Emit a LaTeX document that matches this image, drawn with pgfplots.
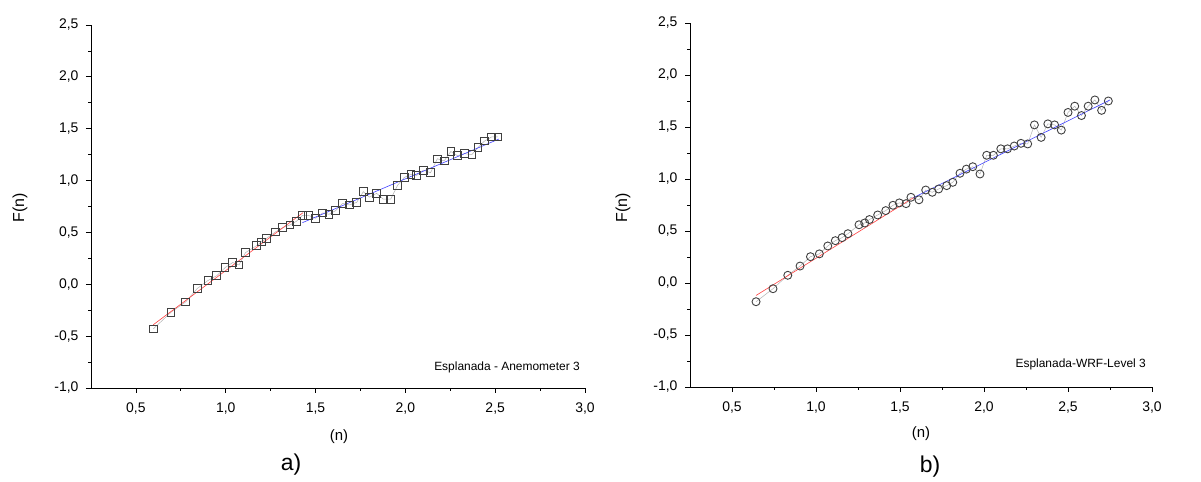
\documentclass[border=0pt]{standalone}
\usepackage{fontspec}
\setmainfont{Liberation Sans}
\usepackage{pgfplots}
\pgfplotsset{compat=1.18}

\pgfplotsset{
  myax/.style={
    scale only axis,
    axis lines=left,
    axis line style={-, line width=0.9bp},
    xmin=0.25, xmax=3, ymin=-1, ymax=2.5,
    xtick={0.5,1,1.5,2,2.5,3},
    ytick={-1,-0.5,0,0.5,1,1.5,2,2.5},
    minor x tick num=1, minor y tick num=1,
    tick align=outside,
    major tick length=5bp, minor tick length=3bp,
    tick style={line width=0.8bp, black},
    ticklabel style={font=\fontsize{14}{16}\selectfont},
    xticklabel style={yshift=-6bp},
    yticklabel style={xshift=-4bp},
    /pgf/number format/.cd, use comma, fixed, fixed zerofill, precision=1, assume math mode=true,
    /pgfplots/.cd,
    clip=false,
  }
}

\begin{document}
\begin{tikzpicture}[x=1bp,y=1bp]
\path[use as bounding box] (0,0) rectangle (1201,482);

\begin{axis}[myax, at={(91bp,94bp)}, anchor=south west, width=494bp, height=363bp]
\addplot[gray!60, line width=0.5bp, mark=square, mark size=3.8bp, mark options={black!75, line width=0.9bp, solid}] coordinates {
(0.597,-0.43) (0.695,-0.27) (0.777,-0.17) (0.842,-0.04) (0.900,0.035) (0.950,0.083)
(0.996,0.16) (1.039,0.21) (1.074,0.186) (1.110,0.305) (1.172,0.372) (1.200,0.41)
(1.228,0.444) (1.276,0.504) (1.317,0.546) (1.358,0.572) (1.393,0.607) (1.427,0.665)
(1.460,0.665) (1.500,0.636) (1.540,0.688) (1.575,0.675) (1.612,0.71) (1.650,0.78)
(1.688,0.765) (1.729,0.79) (1.766,0.893) (1.800,0.84) (1.840,0.877) (1.877,0.82)
(1.918,0.82) (1.957,0.955) (1.994,1.03) (2.030,1.06) (2.063,1.05) (2.100,1.10)
(2.140,1.076) (2.178,1.21) (2.216,1.19) (2.253,1.28) (2.290,1.24) (2.330,1.26)
(2.370,1.25) (2.405,1.32) (2.440,1.38) (2.480,1.42) (2.515,1.42)
};
\addplot[red!75, line width=0.6bp] coordinates {(0.597,-0.39) (1.43,0.69)};
\addplot[blue!75, line width=0.6bp] coordinates {(1.427,0.594) (2.52,1.40)};
\end{axis}

\begin{axis}[myax, at={(690bp,95bp)}, anchor=south west, width=462bp, height=364bp]
\addplot[gray!60, line width=0.5bp, mark=o, mark size=4bp, mark options={black!75, line width=0.9bp, solid}] coordinates {
(0.643,-0.18) (0.744,-0.055) (0.832,0.074) (0.905,0.163) (0.967,0.253) (1.020,0.28)
(1.070,0.356) (1.115,0.407) (1.155,0.436) (1.190,0.474) (1.256,0.56) (1.290,0.577)
(1.318,0.61) (1.367,0.654) (1.415,0.696) (1.458,0.747) (1.496,0.77) (1.536,0.763)
(1.565,0.824) (1.613,0.80) (1.653,0.894) (1.692,0.872) (1.730,0.904) (1.778,0.936)
(1.814,0.968) (1.857,1.055) (1.895,1.095) (1.933,1.118) (1.976,1.048) (2.016,1.228)
(2.056,1.228) (2.100,1.29) (2.140,1.29) (2.180,1.317) (2.220,1.343) (2.260,1.337)
(2.300,1.52) (2.340,1.40) (2.380,1.53) (2.420,1.52) (2.460,1.47) (2.500,1.64)
(2.540,1.70) (2.580,1.61) (2.620,1.70) (2.660,1.76) (2.700,1.66) (2.740,1.75)
};
\addplot[red!75, line width=0.6bp] coordinates {(0.643,-0.12) (1.59,0.83)};
\addplot[blue!75, line width=0.6bp] coordinates {(1.58,0.82) (2.75,1.76)};
\end{axis}

\node[rotate=90, font=\fontsize{16}{18}\selectfont] at (20,274) {F(n)};
\node[rotate=90, font=\fontsize{16}{18}\selectfont] at (623,274) {F(n)};
\node[font=\fontsize{15}{17}\selectfont] at (339,45) {(n)};
\node[font=\fontsize{15}{17}\selectfont] at (921,48) {(n)};
\node[font=\fontsize{23}{26}\selectfont] at (291,17) {a)};
\node[font=\fontsize{23}{26}\selectfont] at (930,15) {b)};
\node[anchor=east, inner sep=0pt, font=\fontsize{12}{14}\selectfont] at (580,115) {Esplanada - Anemometer 3};
\node[anchor=east, inner sep=0pt, font=\fontsize{12}{14}\selectfont] at (1146,118) {Esplanada-WRF-Level 3};
\end{tikzpicture}
\end{document}
